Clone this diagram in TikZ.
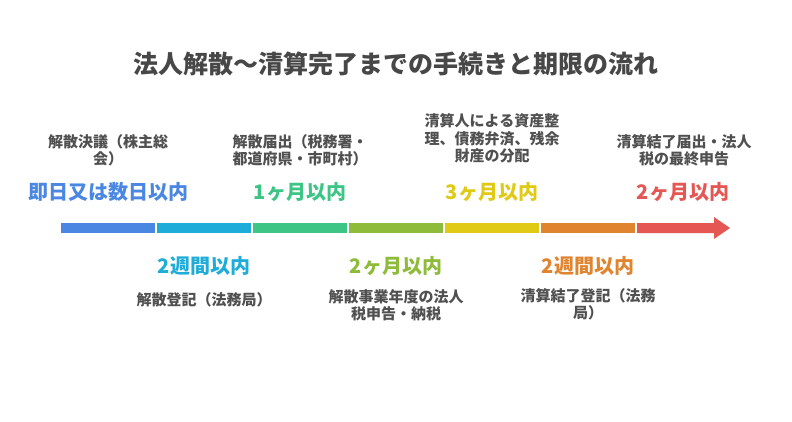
\documentclass[tikz,border=0pt]{standalone}
\usepackage{fontspec}
\setmainfont{Noto Sans CJK JP}
\definecolor{titlegray}{HTML}{474747}
\definecolor{descgray}{HTML}{505050}
\definecolor{cA}{HTML}{4A87E3}
\definecolor{cB}{HTML}{1FACD9}
\definecolor{cC}{HTML}{3CC584}
\definecolor{cD}{HTML}{8EBC3A}
\definecolor{cE}{HTML}{E0CA16}
\definecolor{cF}{HTML}{E08430}
\definecolor{cG}{HTML}{E55753}
\tikzset{
  titletext/.style={text=titlegray, font=\fontsize{25}{30}\selectfont\bfseries, inner sep=0pt},
  desc/.style={text=descgray, font=\fontsize{15}{17.5}\selectfont\bfseries, align=center, inner sep=0pt},
  timing/.style={font=\fontsize{20}{24}\selectfont\bfseries, inner sep=0pt},
  seg/.style={rectangle, minimum width=94pt, minimum height=10pt, inner sep=0pt, draw=none}
}
\begin{document}
\begin{tikzpicture}[x=1pt,y=-1pt]
\useasboundingbox (0,0) rectangle (792,421);
\fill[white] (0,0) rectangle (792,421);
% title
\node[titletext] (title) at (396,64) {法人解散～清算完了までの手続きと期限の流れ};
% bar segments
\node[seg, fill=cA] (s1) at (108,228) {};
\node[seg, fill=cB] (s2) at (204,228) {};
\node[seg, fill=cC] (s3) at (300,228) {};
\node[seg, fill=cD] (s4) at (396,228) {};
\node[seg, fill=cE] (s5) at (492,228) {};
\node[seg, fill=cF] (s6) at (588,228) {};
\coordinate (s7) at (637,228);
\fill[cG] (637,223) -- (714,223) -- (714,217) -- (730,228) -- (714,239) -- (714,233) -- (637,233) -- cycle;
% upper timings
\node[timing, text=cA] (t1) at (108,192) {即日又は数日以内};
\node[timing, text=cC] (t3) at (300,192) {1ヶ月以内};
\node[timing, text=cE] (t5) at (492,192) {3ヶ月以内};
\node[timing, text=cG] (t7) at (683,192) {2ヶ月以内};
% upper descriptions
\node[desc] (d1) at (108,150.5) {解散決議（株主総\\会）};
\node[desc] (d3) at (300,150.5) {解散届出（税務署・\\都道府県・市町村）};
\node[desc] (d5) at (492,138.5) {清算人による資産整\\理、債務弁済、残余\\財産の分配};
\node[desc] (d7) at (684,150.5) {清算結了届出・法人\\税の最終申告};
% lower timings
\node[timing, text=cB] (t2) at (204,266) {2週間以内};
\node[timing, text=cD] (t4) at (396,266) {2ヶ月以内};
\node[timing, text=cF] (t6) at (588,266) {2週間以内};
% lower descriptions
\node[desc] (d2) at (204,300) {解散登記（法務局）};
\node[desc] (d4) at (396,305.5) {解散事業年度の法人\\税申告・納税};
\node[desc] (d6) at (588,304.5) {清算結了登記（法務\\局）};
\end{tikzpicture}
\end{document}
